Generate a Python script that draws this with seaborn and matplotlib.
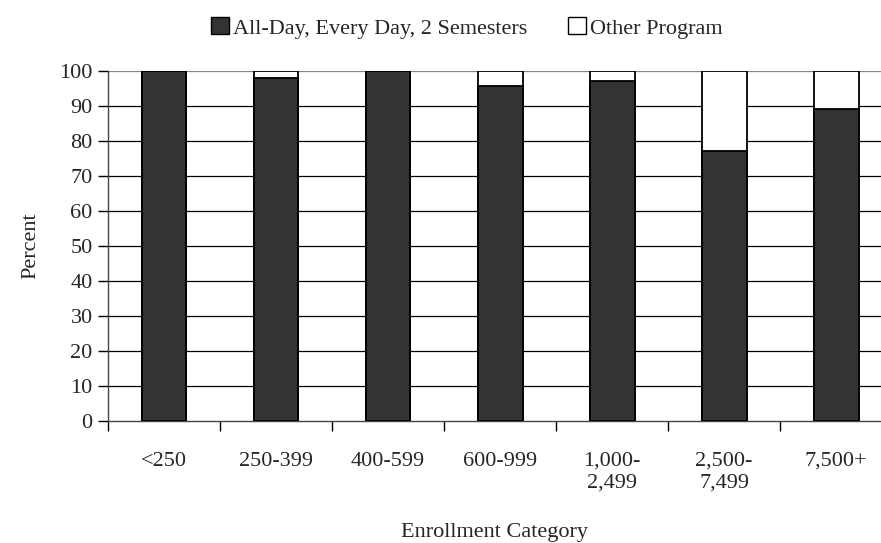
import numpy as np
import pandas as pd
import matplotlib.pyplot as plt
import seaborn as sns
from matplotlib.patches import Patch

categories = ["<250", "250-399", "400-599", "600-999", "1,000-\n2,499", "2,500-\n7,499", "7,500+"]
all_day = [100, 98, 100, 95.5, 97, 77, 89]
other = [0, 2, 0, 4.5, 3, 23, 11]

df = pd.DataFrame({"Enrollment": categories, "AllDay": all_day, "Other": other})
df["Total"] = df["AllDay"] + df["Other"]

sns.set_theme(style="white")
plt.rcParams["font.family"] = ["Liberation Serif", "DejaVu Serif"]
FS = 16

fig = plt.figure(figsize=(8.81, 5.43), dpi=100)
ax = fig.add_axes([0.1226, 0.2247, 0.8774, 0.6453])

# stacked: full height white first, dark on top of it
sns.barplot(data=df, x="Enrollment", y="Total", color="white", edgecolor="black",
            linewidth=1.3, width=0.4, ax=ax, zorder=3, saturation=1)
sns.barplot(data=df, x="Enrollment", y="AllDay", color="#333333", edgecolor="black",
            linewidth=1.3, width=0.4, ax=ax, zorder=4, saturation=1)

ax.set_ylim(0, 100)
ax.set_xlim(-0.5, 6.4)
ax.set_yticks(range(0, 101, 10))
for yv in range(10, 101, 10):
    ax.axhline(yv, color="black" if yv < 100 else "#888888", linewidth=0.9, zorder=1)

ax.set_xticks(np.arange(-0.5, 6.5, 1), minor=False)
ax.set_xticklabels([])
ax.set_xticks(range(len(categories)), minor=True)
ax.set_xticklabels(categories, minor=True, fontsize=FS)
ax.tick_params(axis="x", which="major", direction="out", length=7, width=1, color="black", bottom=True)
ax.tick_params(axis="x", which="minor", length=0, pad=22)
ax.tick_params(axis="y", direction="out", length=7, width=1, color="black", left=True, labelsize=FS, pad=4)

for s in ["top", "right"]:
    ax.spines[s].set_visible(False)
for s in ["left", "bottom"]:
    ax.spines[s].set_color("#444444")
    ax.spines[s].set_linewidth(1)

ax.set_xlabel("Enrollment Category", fontsize=FS, labelpad=22)
ax.set_ylabel("Percent", fontsize=FS, labelpad=14)

handles = [Patch(facecolor="#333333", edgecolor="black", label="All-Day, Every Day, 2 Semesters"),
           Patch(facecolor="white", edgecolor="black", label="Other Program")]
fig.legend(handles=handles, loc="upper center", bbox_to_anchor=(0.53, 1.005), ncol=2,
           frameon=False, fontsize=FS, handlelength=0.8, handleheight=0.8,
           handletextpad=0.2, columnspacing=1.8)

fig.savefig("out.png", dpi=100)
